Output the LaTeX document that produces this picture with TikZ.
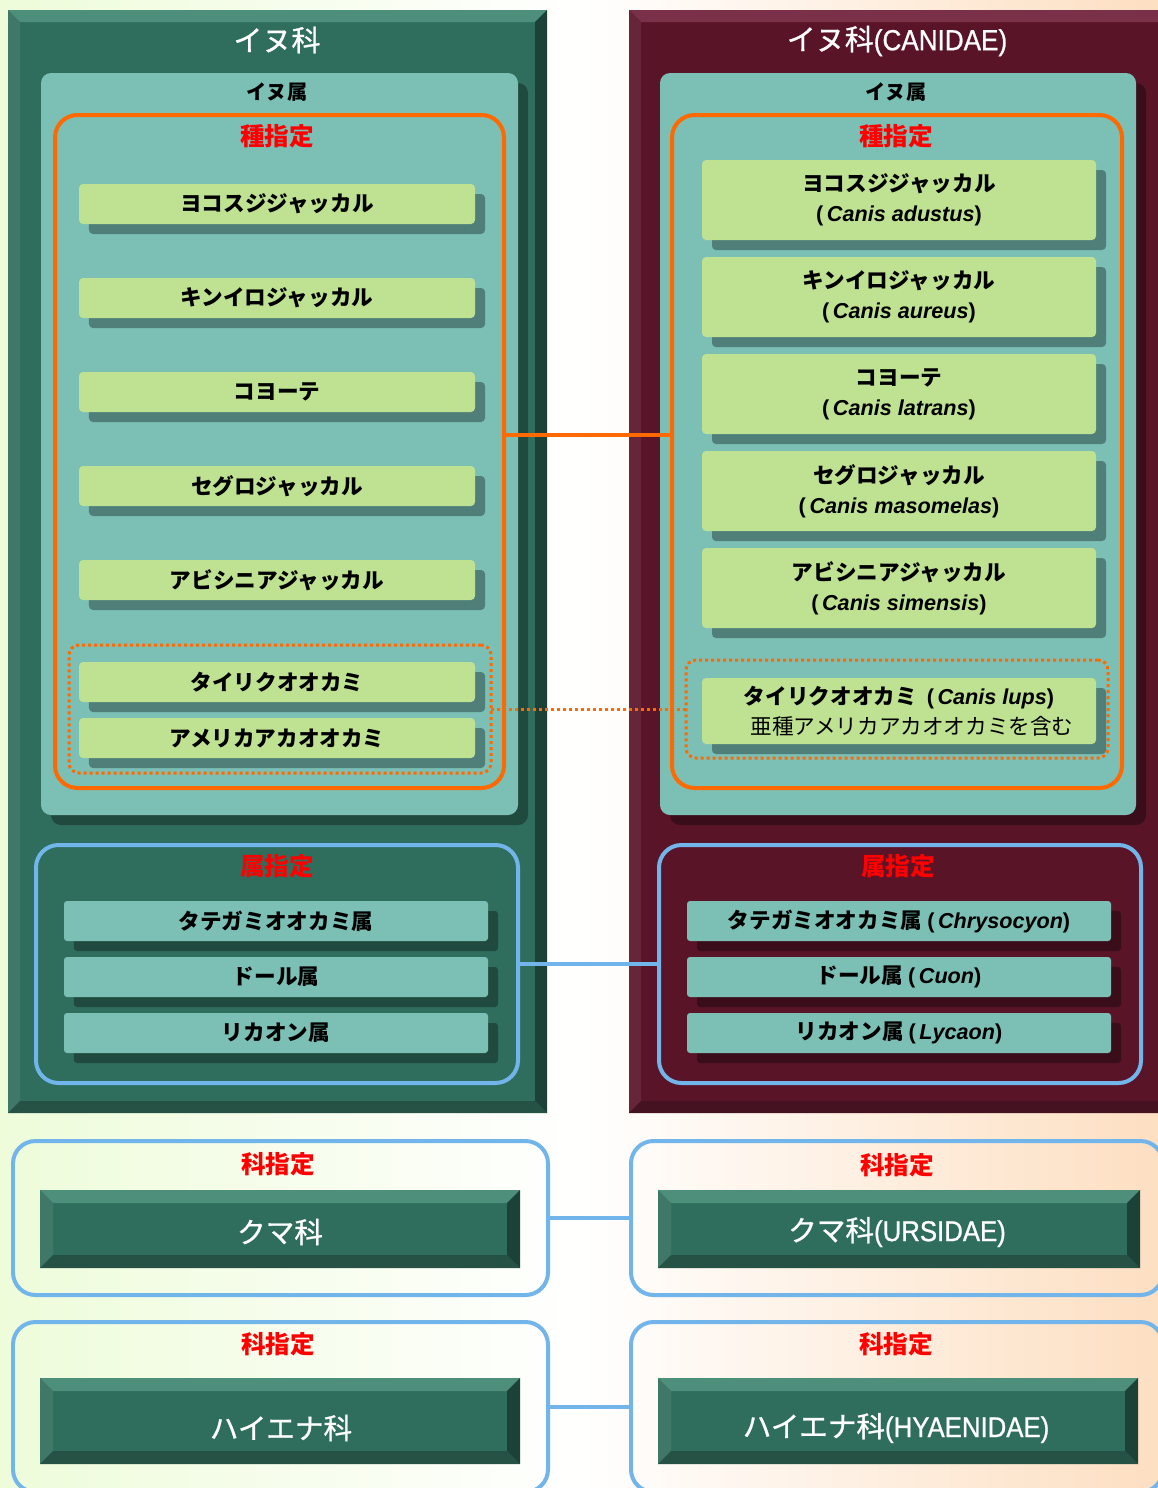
\documentclass[tikz,border=0pt]{standalone}
\usepackage{fontspec}
\setmainfont{Noto Sans CJK JP}
\newfontfamily\jpmed[FakeBold=0.9]{Noto Sans CJK JP}
\newfontfamily\latn[FakeStretch=0.9,FakeBold=0.9]{Liberation Sans}
\newfontfamily\sci{Liberation Sans}
\usetikzlibrary{shadows}
\newcommand\upx{0.02cm}
\newcommand\sciname[1]{{\sci\bfseries(\,\textit{#1})}}
\definecolor{bgleft}{HTML}{EEFCDA}
\definecolor{bgright}{HTML}{FDDFC2}
\definecolor{famgreen}{HTML}{2F6E5D}
\definecolor{famgreenhi}{HTML}{4E8F7C}
\definecolor{famgreenlo}{HTML}{1C4237}
\definecolor{fammaroon}{HTML}{5A1428}
\definecolor{fammaroonhi}{HTML}{7A3048}
\definecolor{fammaroonlo}{HTML}{380A18}
\definecolor{genteal}{HTML}{7BBFB5}
\definecolor{spgreen}{HTML}{BFE292}
\definecolor{tealshadow}{HTML}{4F7F78}
\definecolor{greenshadow}{HTML}{214A3F}
\definecolor{maroonshadow}{HTML}{3A0D1B}
\definecolor{orangeline}{HTML}{FF6A00}
\definecolor{blueline}{HTML}{72B5EA}
\definecolor{redtext}{HTML}{FF0000}
% raised frame round a node: name, width, light, dark
\newcommand\bevel[4]{%
  \fill[#3] (#1.north west) -- (#1.north east) -- ([shift={(-#2,#2)}]#1.north east) -- ([shift={(#2,#2)}]#1.north west) -- cycle;
  \fill[#3!70!#4] (#1.north west) -- ([shift={(#2,#2)}]#1.north west) -- ([shift={(#2,-#2)}]#1.south west) -- (#1.south west) -- cycle;
  \fill[#4] (#1.north east) -- (#1.south east) -- ([shift={(-#2,-#2)}]#1.south east) -- ([shift={(-#2,#2)}]#1.north east) -- cycle;
  \fill[#4!80!#3] (#1.south west) -- (#1.south east) -- ([shift={(-#2,-#2)}]#1.south east) -- ([shift={(#2,-#2)}]#1.south west) -- cycle;
}
\begin{document}
\begin{tikzpicture}[
    x=0.02cm, y=-0.02cm,
    every node/.style={inner sep=0pt, outer sep=0pt},
    sz/.style 2 args={minimum width=#1*\upx, minimum height=#2*\upx},
    famtitle/.style={text=white, font=\jpmed\fontsize{16.5}{19}\selectfont},
    gentitle/.style={font=\bfseries\fontsize{11.5}{14}\selectfont},
    redtitle/.style={text=redtext, font=\bfseries\fontsize{14}{16}\selectfont},
    genbox/.style={fill=genteal, rounded corners=0.2cm, anchor=north west,
      general shadow={fill=#1, shadow xshift=0.2cm, shadow yshift=-0.2cm}},
    genbox/.default=greenshadow,
    orgbox/.style={draw=orangeline, line width=0.08cm, rounded corners=0.45cm, anchor=north west},
    dotbox/.style={draw=orangeline, line width=0.06cm, dash pattern=on 0.06cm off 0.06cm,
      rounded corners=0.2cm, anchor=north west},
    bluebox/.style={draw=blueline, line width=0.08cm, rounded corners=0.45cm, anchor=north west},
    spbox/.style={fill=spgreen, rounded corners=0.08cm, sz={396}{40}, align=center,
      font=\bfseries\fontsize{12.3}{17}\selectfont,
      general shadow={fill=tealshadow, shadow xshift=0.2cm, shadow yshift=-0.2cm}},
    gnbox/.style={fill=genteal, rounded corners=0.06cm, sz={424}{40},
      font=\bfseries\fontsize{12.3}{17}\selectfont,
      general shadow={fill=#1, shadow xshift=0.2cm, shadow yshift=-0.2cm}},
    gnbox/.default=greenshadow,
    kabox/.style={fill=famgreen, anchor=north west},
    katext/.style={text=white, font=\jpmed\fontsize{16.3}{19}\selectfont},
  ]
  \clip (0,0) rectangle (1158,1488);
  \shade[left color=bgleft, right color=bgright, middle color=white] (0,0) rectangle (1158,1488);

  % left side
  \node[fill=famgreen, anchor=north west, sz={539}{1103}] (lfam) at (8,10) {};
  \bevel{lfam}{12}{famgreenhi}{famgreenlo}
  \node[famtitle] (lfamt) at (277,40) {イヌ科};
  \node[genbox, sz={477}{742}] (lgen) at (41,73) {};
  \node[gentitle] (lgent) at (277,92) {イヌ属};
  \node[orgbox, sz={449}{673}] (lorg) at (55,115) {};
  \node[redtitle] (lorgt) at (277,136) {種指定};
  \foreach \nm [count=\i] in {ヨコスジジャッカル, キンイロジャッカル, コヨーテ, セグロジャッカル, アビシニアジャッカル}
    \node[spbox] (lsp\i) at (277, 110+94*\i) {\nm};
  \node[dotbox, sz={422}{128}] (ldot) at (69,645) {};
  \node[spbox] (lwolf) at (277,682) {タイリクオオカミ};
  \node[spbox] (lred) at (277,738) {アメリカアカオオカミ};
  \node[bluebox, sz={482}{238}] (lblue) at (36,845) {};
  \node[redtitle] (lbluet) at (277,866) {属指定};
  \foreach \nm [count=\i] in {タテガミオオカミ属, ドール属, リカオン属}
    \node[gnbox] (lgn\i) at (276, 865+56*\i) {\nm};

  % right side
  \node[fill=fammaroon, anchor=north west, sz={545}{1103}] (rfam) at (629,10) {};
  \bevel{rfam}{12}{fammaroonhi}{fammaroonlo}
  \node[famtitle] (rfamt) at (897,41) {イヌ科{\latn(CANIDAE)}};
  \node[genbox=maroonshadow, sz={476}{742}] (rgen) at (660,73) {};
  \node[gentitle] (rgent) at (896,92) {イヌ属};
  \node[orgbox, sz={450}{673}] (rorg) at (672,115) {};
  \node[redtitle] (rorgt) at (896,136) {種指定};
  \foreach \nm/\sn [count=\i] in {ヨコスジジャッカル/Canis adustus, キンイロジャッカル/Canis aureus,
      コヨーテ/Canis latrans, セグロジャッカル/Canis masomelas, アビシニアジャッカル/Canis simensis}
    \node[spbox, sz={394}{80}] (rsp\i) at (899, 103+97*\i) {\nm\\\sciname{\sn}};
  \node[dotbox, sz={422}{98}] (rdot) at (686,660) {};
  \node[spbox, sz={394}{66}] (rwolf) at (899,711)
    {タイリクオオカミ\ \ \sciname{Canis lups}\\\hspace*{1.2em}\mdseries 亜種アメリカアカオオカミを含む};
  \node[bluebox, sz={482}{238}] (rblue) at (659,845) {};
  \node[redtitle] (rbluet) at (898,866) {属指定};
  \foreach \nm/\sn [count=\i] in {タテガミオオカミ属/Chrysocyon, ドール属/Cuon, リカオン属/Lycaon}
    \node[gnbox=maroonshadow] (rgn\i) at (899, 865+56*\i) {\nm\ \sciname{\sn}};

  % other families
  \node[bluebox, sz={535}{154}] (lfr1) at (13,1141) {};
  \node[redtitle] (lfr1t) at (278,1164) {科指定};
  \node[kabox, sz={480}{78}] (lka1) at (40,1190) {};
  \bevel{lka1}{13}{famgreenhi}{famgreenlo}
  \node[katext] (lka1t) at (280,1232) {クマ科};
  \node[bluebox, sz={532}{154}] (rfr1) at (631,1141) {};
  \node[redtitle] (rfr1t) at (897,1165) {科指定};
  \node[kabox, sz={482}{78}] (rka1) at (658,1190) {};
  \bevel{rka1}{13}{famgreenhi}{famgreenlo}
  \node[katext] (rka1t) at (897,1232) {クマ科{\latn(URSIDAE)}};

  \node[bluebox, sz={535}{170}] (lfr2) at (13,1322) {};
  \node[redtitle] (lfr2t) at (278,1344) {科指定};
  \node[kabox, sz={480}{86}] (lka2) at (40,1378) {};
  \bevel{lka2}{13}{famgreenhi}{famgreenlo}
  \node[katext] (lka2t) at (281,1428) {ハイエナ科};
  \node[bluebox, sz={532}{170}] (rfr2) at (631,1322) {};
  \node[redtitle] (rfr2t) at (896,1344) {科指定};
  \node[kabox, sz={480}{86}] (rka2) at (658,1378) {};
  \bevel{rka2}{13}{famgreenhi}{famgreenlo}
  \node[katext] (rka2t) at (896,1428) {ハイエナ科{\latn(HYAENIDAE)}};

  % links
  \draw[orangeline, line width=0.08cm] ([yshift=0.33cm]lorg.east) -- ([yshift=0.33cm]rorg.west);
  \draw[orangeline, line width=0.06cm, dash pattern=on 0.06cm off 0.06cm] (ldot.east) -- (rdot.west);
  \draw[blueline, line width=0.08cm] (lblue.east) -- (rblue.west);
  \draw[blueline, line width=0.08cm] (lfr1.east) -- (rfr1.west);
  \draw[blueline, line width=0.08cm] (lfr2.east) -- (rfr2.west);
\end{tikzpicture}
\end{document}
